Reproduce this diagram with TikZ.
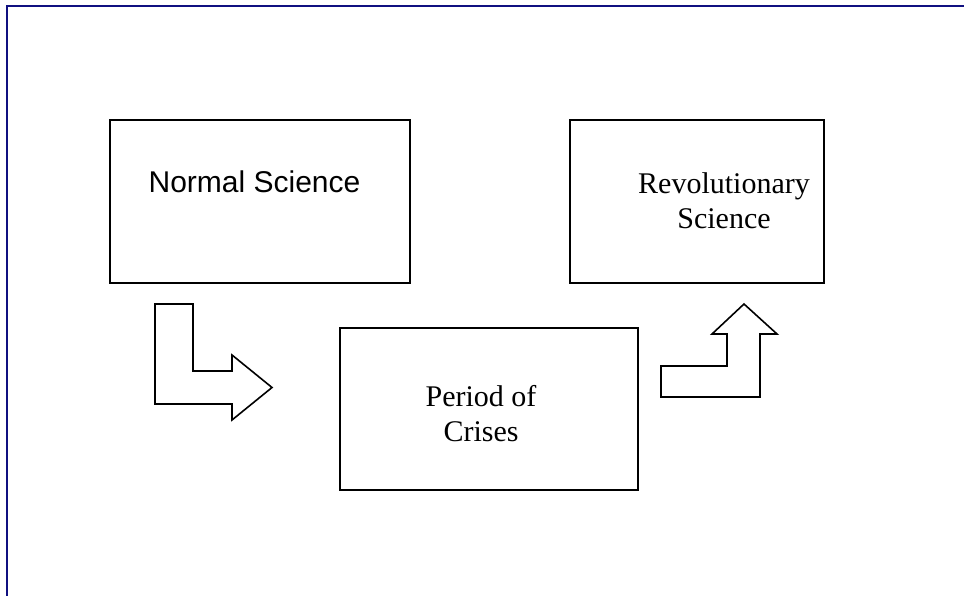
\documentclass[tikz,border=0pt]{standalone}
\usepackage{fontspec}
\setmainfont{Liberation Serif}
\newfontfamily\arialfont{Liberation Sans}
\definecolor{framenavy}{RGB}{16,16,128}
\begin{document}
\begin{tikzpicture}[x=1pt,y=-1pt,
  box/.style={draw=black,line width=1.6pt,inner sep=0pt,anchor=north west},
  blockarrow/.style={draw=black,line width=1.6pt,line join=miter,fill=white},
  lbl/.style={inner sep=0pt,font=\fontsize{30}{35}\selectfont,align=center},
  frameline/.style={draw=framenavy,line width=2.4pt}]
\useasboundingbox[fill=white] (0,0) rectangle (964,596);
% window frame (top and left edges only)
\draw[frameline] (7,597) -- (7,6) -- (965,6);
% boxes
\node[box,minimum width=300pt,minimum height=163pt] (normal) at (109,119) {};
\node[box,minimum width=254pt,minimum height=163pt] (revol) at (569,119) {};
\node[box,minimum width=298pt,minimum height=162pt] (crisis) at (339,327) {};
% labels
\node[lbl,anchor=base] (normaltxt) at (254.5,193) {\arialfont Normal Science};
\node[lbl] (revoltxt) at (724,200.5) {Revolutionary\\Science};
\node[lbl] (crisistxt) at (481,414) {Period of\\Crises};
% block arrows
\draw[blockarrow] (155,304) -- (193,304) -- (193,371) -- (232,371) -- (232,355)
  -- (272,387.5) -- (232,420) -- (232,404) -- (155,404) -- cycle;
\draw[blockarrow] (661,397) -- (661,366) -- (727,366) -- (727,334) -- (712,334)
  -- (744,304) -- (777,334) -- (760,334) -- (760,397) -- cycle;
\end{tikzpicture}
\end{document}
